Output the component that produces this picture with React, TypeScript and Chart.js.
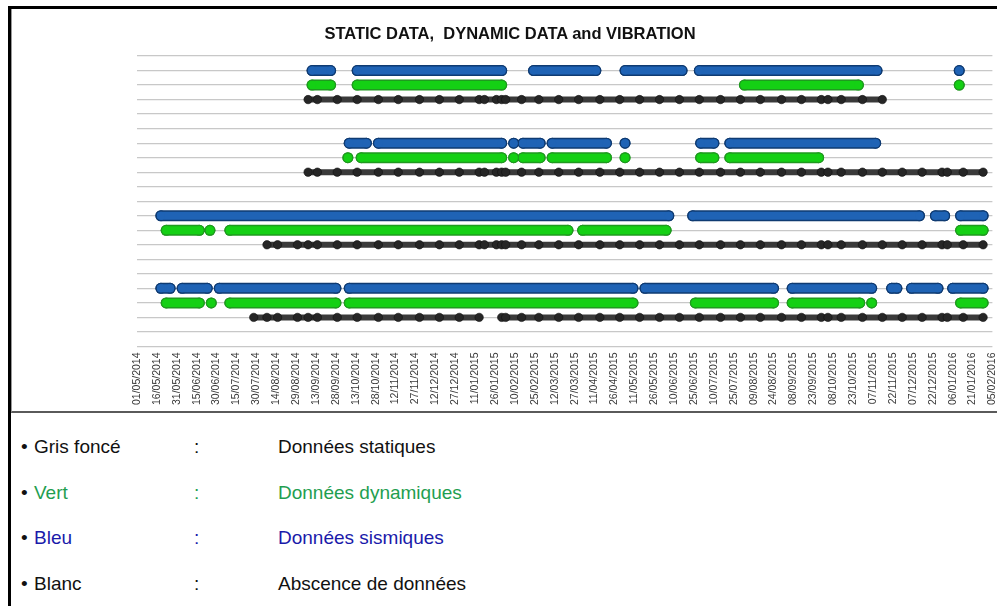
import React, { useEffect, useRef } from "react";
import { Chart, registerables } from "chart.js";

Chart.register(...registerables);

// X axis: days since 01/05/2014, ticks every 15 days up to 05/02/2016
const START_UTC = Date.UTC(2014, 4, 1);
const X_MAX_DAYS = 645;
const X_STEP_DAYS = 15;

const CHART_TITLE = "STATIC DATA,  DYNAMIC DATA and VIBRATION";

// Sampling dates of the static records (days since 01/05/2014)
const staticMarks = [
  88, 98, 106, 121, 129, 136, 151, 166, 182, 197, 213, 228, 243, 258, 262, 271, 275, 278,
  290, 303, 318, 333, 349, 364, 379, 394, 409, 424, 440, 455, 470, 486, 501, 516, 521, 531,
  547, 562, 577, 592, 607, 611, 623, 638,
];

// Periods with data, [from, to] in days since 01/05/2014
const blueA = [[132, 146], [166, 275], [299, 346], [368, 411], [424, 558], [620, 620]];
const greenA = [[132, 146], [166, 275], [458, 544], [620, 620]];
const staticA = [[129, 562]];

const blueB = [[160, 173], [182, 275], [284, 284], [291, 304], [313, 354], [368, 368], [425, 435], [447, 557]];
const greenB = [[159, 159], [169, 275], [284, 284], [291, 304], [313, 354], [368, 368], [425, 435], [447, 514]];
const staticB = [[129, 638]];

const blueC = [[18, 401], [419, 590], [602, 609], [621, 638]];
const greenC = [[22, 47], [55, 55], [70, 325], [336, 399], [621, 638]];
const staticC = [[98, 638]];

const blueD = [[18, 25], [34, 53], [62, 150], [160, 374], [383, 480], [494, 554], [569, 573], [584, 604], [615, 638]];
const greenD = [[22, 47], [56, 56], [70, 150], [160, 374], [421, 480], [494, 545], [554, 554], [621, 638]];
const staticD = [[88, 258], [275, 638]];

// Row positions on the (hidden) y axis
const ROWS = [
  { blue: blueA, green: greenA, stat: staticA, y: 19 },
  { blue: blueB, green: greenB, stat: staticB, y: 14 },
  { blue: blueC, green: greenC, stat: staticC, y: 9 },
  { blue: blueD, green: greenD, stat: staticD, y: 4 },
];

const LEGEND_ITEMS = [
  { label: "Gris foncé", text: "Données statiques", color: "#111111" },
  { label: "Vert", text: "Données dynamiques", color: "#1f9e50" },
  { label: "Bleu", text: "Données sismiques", color: "#1a1aaa" },
  { label: "Blanc", text: "Abscence de données", color: "#111111" },
];

const fmtDate = (d: number) => {
  const dt = new Date(START_UTC + d * 86400000);
  const dd = String(dt.getUTCDate()).padStart(2, "0");
  const mm = String(dt.getUTCMonth() + 1).padStart(2, "0");
  return `${dd}/${mm}/${dt.getUTCFullYear()}`;
};

type Seg = number[];

const segPoints = (segs: Seg[], y: number) => {
  const out: { x: number; y: number | null }[] = [];
  segs.forEach(([s, e]) => {
    out.push({ x: s, y });
    if (e !== s) out.push({ x: e, y });
    out.push({ x: e + 0.01, y: null });
  });
  return out;
};

const staticPoints = (segs: Seg[], y: number) => {
  const out: { x: number; y: number | null }[] = [];
  segs.forEach(([s, e]) => {
    const xs = Array.from(new Set([s, ...staticMarks.filter((m) => m >= s && m <= e), e])).sort((a, b) => a - b);
    xs.forEach((x) => out.push({ x, y }));
    out.push({ x: e + 0.01, y: null });
  });
  return out;
};

const lineDs = (data: any[], color: string, width: number, radius: number, order: number) => ({
  type: "line" as const,
  data,
  borderColor: color,
  backgroundColor: color,
  borderWidth: width,
  borderCapStyle: "round" as const,
  borderJoinStyle: "round" as const,
  pointRadius: radius,
  pointHoverRadius: radius,
  pointBackgroundColor: color,
  pointBorderWidth: 0,
  spanGaps: false,
  tension: 0,
  order,
});

export default function App() {
  const ref = useRef<HTMLCanvasElement>(null);

  useEffect(() => {
    if (!ref.current) return;
    const datasets: any[] = [];
    ROWS.forEach((r) => {
      const b = segPoints(r.blue, r.y);
      datasets.push(lineDs(b, "#0f3b72", 11, 5.5, 4));
      datasets.push(lineDs(b, "#1f63b5", 8, 4, 3));
      const g = segPoints(r.green, r.y - 1);
      datasets.push(lineDs(g, "#1f9a1f", 11, 5.5, 4));
      datasets.push(lineDs(g, "#14d014", 8, 4, 3));
      const s = staticPoints(r.stat, r.y - 2);
      datasets.push({
        ...lineDs(s, "#3a3a3a", 6, 4.2, 2),
        pointBackgroundColor: "#262626",
        pointBorderColor: "#111111",
        pointBorderWidth: 0.6,
      });
    });

    const chart = new Chart(ref.current, {
      type: "line",
      data: { datasets },
      options: {
        animation: false,
        responsive: false,
        events: [],
        layout: { padding: { left: 125, right: 6, top: 47, bottom: 0 } },
        plugins: {
          legend: { display: false },
          tooltip: { enabled: false },
          title: { display: false },
        },
        scales: {
          x: {
            type: "linear",
            min: 0,
            max: X_MAX_DAYS,
            grid: { display: false, drawTicks: false },
            border: { display: false },
            ticks: {
              stepSize: X_STEP_DAYS,
              autoSkip: false,
              maxRotation: 90,
              minRotation: 90,
              padding: 6,
              color: "#383838",
              font: { family: "Liberation Sans", size: 10.5 },
              callback: (v: any) => fmtDate(Number(v)),
            },
          },
          y: {
            type: "linear",
            min: 0,
            max: 20,
            ticks: { display: false, stepSize: 1 },
            grid: { color: "#c8c8c8", lineWidth: 1.2, drawTicks: false },
            border: { display: false },
          },
        },
      },
    });
    return () => chart.destroy();
  }, []);

  const font = "'Liberation Sans', Arial, sans-serif";

  return (
    <div>
      <div
        style={{
          position: "absolute",
          left: 8,
          top: 6,
          width: 989,
          height: 600,
          borderLeft: "3px solid #000",
          borderTop: "3px solid #000",
          boxSizing: "border-box",
        }}
      />
      <div
        style={{
          position: "absolute",
          left: 11,
          top: 9,
          width: 986,
          height: 404,
          borderLeft: "1px solid #999",
          borderBottom: "2px solid #5a5a5a",
          boxSizing: "border-box",
          background: "#fff",
          overflow: "hidden",
        }}
      >
        <canvas ref={ref} width={999} height={402} style={{ display: "block" }} />
      </div>
      <div
        style={{
          position: "absolute",
          left: 260,
          top: 23,
          width: 500,
          textAlign: "center",
          fontFamily: font,
          fontWeight: "bold",
          fontSize: 16.5,
          lineHeight: "20px",
          color: "#111",
          whiteSpace: "pre",
        }}
      >
        {CHART_TITLE}
      </div>
      {LEGEND_ITEMS.map((it, i) => (
        <div
          key={it.label}
          style={{
            position: "absolute",
            top: 435 + i * 45.7,
            left: 0,
            width: 997,
            height: 24,
            fontFamily: font,
            fontSize: 19,
            lineHeight: "24px",
            color: it.color,
          }}
        >
          <span style={{ position: "absolute", left: 21, color: "#111" }}>•</span>
          <span style={{ position: "absolute", left: 34 }}>{it.label}</span>
          <span style={{ position: "absolute", left: 194 }}>:</span>
          <span style={{ position: "absolute", left: 278 }}>{it.text}</span>
        </div>
      ))}
    </div>
  );
}
